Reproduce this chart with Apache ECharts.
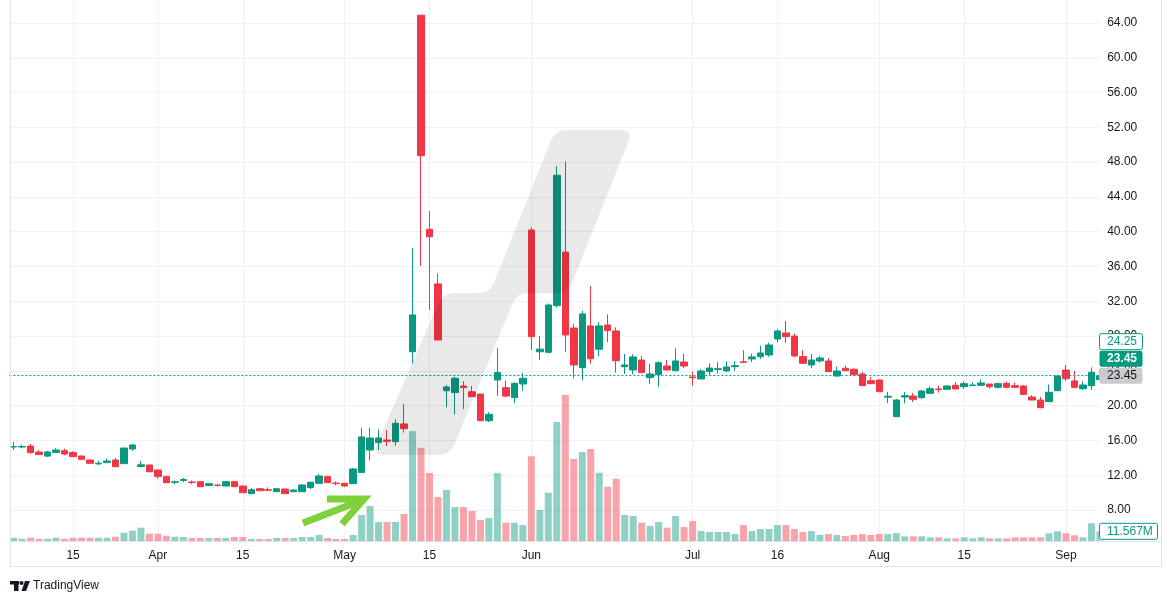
<!DOCTYPE html>
<html><head><meta charset="utf-8">
<script src="https://cdn.jsdelivr.net/npm/echarts/dist/echarts.min.js"></script>
<style>html,body{margin:0;padding:0;background:#fff}#c{width:1171px;height:604px}</style>
</head><body><div id="c"></div>
<script>
// ---------------- data ----------------
const dates = [
 '2024-03-06','2024-03-07','2024-03-08','2024-03-11','2024-03-12','2024-03-13','2024-03-14','2024-03-15','2024-03-18','2024-03-19',
 '2024-03-20','2024-03-21','2024-03-22','2024-03-25','2024-03-26','2024-03-27','2024-03-28','2024-04-01','2024-04-02','2024-04-03',
 '2024-04-04','2024-04-05','2024-04-08','2024-04-09','2024-04-10','2024-04-11','2024-04-12','2024-04-15','2024-04-16','2024-04-17',
 '2024-04-18','2024-04-19','2024-04-22','2024-04-23','2024-04-24','2024-04-25','2024-04-26','2024-04-29','2024-04-30','2024-05-01',
 '2024-05-02','2024-05-03','2024-05-06','2024-05-07','2024-05-08','2024-05-09','2024-05-10','2024-05-13','2024-05-14','2024-05-15',
 '2024-05-16','2024-05-17','2024-05-20','2024-05-21','2024-05-22','2024-05-23','2024-05-24','2024-05-28','2024-05-29','2024-05-30',
 '2024-05-31','2024-06-03','2024-06-04','2024-06-05','2024-06-06','2024-06-07','2024-06-10','2024-06-11','2024-06-12','2024-06-13',
 '2024-06-14','2024-06-17','2024-06-18','2024-06-20','2024-06-21','2024-06-24','2024-06-25','2024-06-26','2024-06-27','2024-06-28',
 '2024-07-01','2024-07-02','2024-07-03','2024-07-05','2024-07-08','2024-07-09','2024-07-10','2024-07-11','2024-07-12','2024-07-15',
 '2024-07-16','2024-07-17','2024-07-18','2024-07-19','2024-07-22','2024-07-23','2024-07-24','2024-07-25','2024-07-26','2024-07-29',
 '2024-07-30','2024-07-31','2024-08-01','2024-08-02','2024-08-05','2024-08-06','2024-08-07','2024-08-08','2024-08-09','2024-08-12',
 '2024-08-13','2024-08-14','2024-08-15','2024-08-16','2024-08-19','2024-08-20','2024-08-21','2024-08-22','2024-08-23','2024-08-26',
 '2024-08-27','2024-08-28','2024-08-29','2024-08-30','2024-09-03','2024-09-04','2024-09-05','2024-09-06','2024-09-09'
];
const open = [
 15.25,15.25,15.36,14.67,14.2,14.6,14.82,14.6,14.2,13.75,
 13.3,13.45,13.75,13.33,15.02,13.0,13.18,12.6,11.84,11.18,
 11.4,11.22,11.26,10.8,10.87,10.76,11.26,10.76,9.88,10.45,
 10.33,10.1,10.41,10.1,10.1,10.57,11.07,11.84,11.1,11.07,
 11.03,12.3,14.9,15.75,16.05,15.86,17.9,26.2,64.9,40.28,
 34.0,21.72,21.5,22.26,21.6,21.34,18.27,22.95,22.07,20.92,
 22.49,40.2,26.2,26.14,31.5,37.66,28.93,24.37,29.17,26.49,
 29.28,28.59,24.48,24.1,25.25,23.22,23.56,24.56,24.02,25.02,
 23.3,23.07,23.91,24.15,23.99,24.5,25.05,25.37,25.63,25.83,
 27.67,28.36,28.0,25.64,24.68,25.14,25.14,23.41,24.3,24.18,
 23.64,22.87,22.95,20.98,18.73,21.0,21.11,20.92,21.42,21.92,
 21.88,22.34,22.18,22.3,22.34,22.49,22.11,22.57,22.3,22.26,
 21.0,20.65,20.46,21.72,24.1,22.84,21.95,22.3,23.0
];
const high = [
 15.8,15.5,15.6,14.9,14.8,15.1,15.05,14.75,14.3,13.85,
 13.65,13.95,14.0,15.13,15.6,13.65,13.2,12.65,11.95,11.4,
 11.7,11.4,11.3,11.03,11.0,11.35,11.3,10.8,10.54,10.54,
 10.6,10.54,10.45,10.4,10.95,11.26,12.14,11.95,11.3,11.1,
 12.83,17.43,17.43,17.28,17.2,18.43,20.2,38.1,64.9,42.4,
 35.2,22.38,23.33,22.8,22.25,21.34,19.25,26.6,22.9,22.68,
 23.76,40.5,28.0,31.75,47.55,48.06,29.4,30.9,33.76,29.6,
 30.5,29.0,25.94,25.9,25.7,24.8,25.1,25.25,26.6,26.0,
 23.9,24.2,24.87,25.0,25.1,25.1,26.37,26.0,26.9,27.2,
 28.8,29.74,28.3,26.37,25.94,25.7,25.48,24.5,24.6,24.3,
 23.87,23.3,23.0,21.6,20.76,21.57,21.46,21.8,22.2,22.3,
 22.35,22.7,22.8,22.69,23.03,22.49,22.65,22.76,22.65,22.38,
 21.2,21.0,22.45,23.5,24.68,24.0,22.8,24.4,24.25
];
const low = [
 14.9,15.1,14.5,14.35,14.1,14.6,14.3,14.1,13.8,13.35,
 13.2,13.45,12.95,13.33,14.8,12.9,12.4,11.6,11.14,10.95,
 11.2,10.98,10.68,10.8,10.7,10.76,10.68,9.99,9.88,10.19,
 10.19,10.1,9.88,10.1,10.1,10.42,11.07,11.14,10.84,10.65,
 11.03,12.3,13.7,14.9,15.36,15.4,16.9,24.87,36.06,31.0,
 27.55,19.8,19.0,19.6,21.0,18.27,18.1,21.1,21.0,20.3,
 21.7,26.4,25.25,26.0,31.27,26.2,23.15,22.9,24.83,25.7,
 27.3,23.8,23.64,23.6,23.8,22.5,22.2,24.1,24.02,24.3,
 22.3,23.07,23.5,23.7,23.9,24.0,24.95,25.02,25.37,25.6,
 27.3,27.24,25.6,24.8,24.3,24.95,23.91,23.33,24.0,23.5,
 22.3,22.5,21.6,20.3,18.73,20.27,20.42,20.8,21.35,21.5,
 21.8,21.9,21.95,22.3,22.34,21.95,22.0,22.0,22.0,21.2,
 20.65,19.7,20.46,21.72,22.84,22.0,21.8,21.8,22.9
];
const close = [
 15.3,15.3,14.6,14.37,14.67,14.9,14.44,14.13,13.83,13.37,
 13.38,13.64,12.98,15.13,15.48,13.2,12.4,11.84,11.14,11.24,
 11.5,11.17,10.68,11.03,10.82,11.26,10.68,9.99,10.34,10.22,
 10.28,10.45,9.88,10.3,10.88,11.19,11.91,11.14,11.05,10.76,
 12.72,16.4,16.28,16.28,15.9,17.97,17.35,30.43,48.75,39.43,
 27.55,22.15,23.15,22.07,21.03,18.27,19.0,23.8,21.1,22.57,
 23.15,27.93,26.5,31.58,46.5,28.13,24.68,30.55,25.4,29.17,
 28.63,25.17,24.68,25.6,23.8,23.64,24.94,24.1,25.14,24.56,
 23.22,23.99,24.33,24.25,24.45,24.6,24.98,25.6,26.06,26.98,
 28.59,27.93,25.71,24.87,25.25,25.48,23.91,23.99,24.02,23.56,
 22.3,22.53,21.61,21.08,20.65,21.15,20.73,21.69,21.95,21.85,
 22.26,21.92,22.53,22.38,22.61,22.18,22.53,22.11,22.11,21.3,
 20.65,19.77,21.54,23.41,23.1,22.11,22.38,23.84,23.45
];
// volume in millions
const volume = [
 3.9,2.7,3.9,2.7,2.7,3.9,2.7,3.9,3.9,3.9,
 3.9,3.9,5.1,9.9,12.3,15.9,8.7,8.7,6.3,5.1,
 4.8,3.6,3.6,3.6,3.6,3.6,4.8,4.8,2.4,2.4,
 2.4,3.6,3.6,3.6,4.8,4.8,7.2,3.6,2.4,2.4,
 7.2,31,41.7,22.6,22.6,22.6,32.2,131,111,81,
 52.5,60.8,40.5,40.5,35.8,25,27.4,81,21.8,21.8,
 19.1,101,37,57.6,142,174,97.8,106,109.7,81.4,
 64.7,74.3,31,29.8,21.8,17.9,22.6,15.9,29.8,16.7,
 23.8,11.9,10.7,10.7,10.7,8.3,19.1,11.9,14.3,14.3,
 19.1,19.1,14.3,10.7,11.9,7.2,8.3,7.2,6,7.2,
 8.3,7.2,8.3,8.3,9.5,5.6,5.6,5.6,4.4,4.4,
 3.2,3.2,4.4,3.2,4.4,3.2,3.2,3.2,4.4,4.4,
 4.4,4.4,9.2,11.6,9.2,6.8,4.4,21.1,11.567
];
const tickDates = ['2024-03-15','2024-04-01','2024-04-15','2024-05-01','2024-05-15','2024-06-03','2024-07-01','2024-07-16','2024-08-01','2024-08-15','2024-09-03'];
const tickTexts = ['15','Apr','15','May','15','Jun','Jul','16','Aug','15','Sep'];
const priceMin = 4, priceMax = 66.65, priceStep = 4, priceTopLabel = 64;
const lastPrice = 23.45;
const markerPrice = 24.25;
const lastVolumeText = '11.567M';

// ---------------- chart ----------------
const UP = '#089981', DOWN = '#f23645';
const UPV = 'rgba(8,153,129,0.45)', DOWNV = 'rgba(242,54,69,0.45)';
const FONT = '"Liberation Sans", Arial, sans-serif';
const TXT = '#131722';
const GRIDC = '#f0f1f4';

const tickIdx = new Set(tickDates.map(d => dates.indexOf(d)));
const labelOf = {}; tickDates.forEach((d, k) => labelOf[d] = tickTexts[k]);
const candleData = dates.map((d, i) => [open[i], close[i], low[i], high[i]]);
const volData = volume.map((v, i) => ({ value: v, itemStyle: { color: close[i] >= open[i] ? UPV : DOWNV } }));

const GL = 9.4, GW = 1094.8;
const chart = echarts.init(document.getElementById('c'));
chart.setOption({
  animation: false,
  backgroundColor: '#ffffff',
  textStyle: { fontFamily: FONT },
  grid: [
    { left: GL, width: GW, top: 0, height: 544.8 },
    { left: GL, width: GW, top: 0, height: 541 }
  ],
  xAxis: [
    { type: 'category', gridIndex: 0, data: dates, show: false, boundaryGap: true },
    { type: 'category', gridIndex: 1, data: dates, boundaryGap: true,
      axisLine: { show: true, lineStyle: { color: '#e0e3eb', width: 1 } },
      axisTick: { show: false },
      axisLabel: { interval: (i) => tickIdx.has(i), formatter: (v) => labelOf[v] || '',
                   color: TXT, fontSize: 12, margin: 9, fontFamily: FONT },
      splitLine: { show: true, alignWithLabel: true, interval: (i) => tickIdx.has(i),
                   lineStyle: { color: GRIDC, width: 1 } } }
  ],
  yAxis: [
    { type: 'value', gridIndex: 0, position: 'right', min: priceMin, max: priceMax, interval: priceStep,
      axisLine: { show: false }, axisTick: { show: false },
      axisLabel: { margin: 3, color: TXT, fontSize: 12, fontFamily: FONT, showMaxLabel: false, showMinLabel: false,
                   formatter: (v) => (v <= priceMin || v > priceTopLabel) ? '' : v.toFixed(2) },
      splitLine: { show: true, showMinLine: false, showMaxLine: false, lineStyle: { color: GRIDC, width: 1 } } },
    { type: 'value', gridIndex: 1, min: 0, max: 645, show: false, splitLine: { show: false } }
  ],
  series: [
    { type: 'bar', name: 'Volume', xAxisIndex: 1, yAxisIndex: 1, data: volData, barWidth: 7, z: 1, silent: true },
    { type: 'candlestick', name: 'Price', xAxisIndex: 0, yAxisIndex: 0, data: candleData, barWidth: 7, z: 2,
      itemStyle: { color: UP, color0: DOWN, borderColor: UP, borderColor0: DOWN, borderWidth: 1 },
      markLine: { silent: true, symbol: 'none', label: { show: false },
                  lineStyle: { color: UP, type: [2, 2], width: 1 },
                  data: [{ yAxis: lastPrice }] } }
  ]
});

// ---------------- overlays ----------------
function unit(a, p) { const dx = a[0] - p[0], dy = a[1] - p[1], l = Math.hypot(dx, dy); return [dx / l, dy / l]; }
function roundedPoly(pts, r, steps) {
  const out = []; const n = pts.length;
  for (let i = 0; i < n; i++) {
    const p = pts[i], a = pts[(i - 1 + n) % n], b = pts[(i + 1) % n];
    const ua = unit(a, p), ub = unit(b, p);
    const p1 = [p[0] + ua[0] * r, p[1] + ua[1] * r], p2 = [p[0] + ub[0] * r, p[1] + ub[1] * r];
    for (let s = 0; s <= steps; s++) {
      const t = s / steps, u = 1 - t;
      out.push([u * u * p1[0] + 2 * u * t * p[0] + t * t * p2[0], u * u * p1[1] + 2 * u * t * p[1] + t * t * p2[1]]);
    }
  }
  return out;
}
const wm = [[555,130],[633,130],[568,293],[517,293],[450,455],[372,455],[443,293],[490,293]];

const yLast = chart.convertToPixel({ yAxisIndex: 0 }, lastPrice);
const yVol = chart.convertToPixel({ yAxisIndex: 1 }, volume[volume.length - 1]);
const BX = 1099.5, BW = 43, BH = 16, PITCH = 17;
const grayTop = yLast - BH / 2, greenTop = grayTop - PITCH, outTop = greenTop - PITCH;

function box(top, w, fill, stroke, text, color, bold) {
  return [
    { type: 'rect', z: 60, shape: { x: BX, y: top, width: w, height: BH, r: 2 },
      style: { fill: fill, stroke: stroke || null, lineWidth: stroke ? 1 : 0 } },
    { type: 'text', z: 61, x: 1107, y: top + BH / 2 + 0.5,
      style: { text: text, fill: color, font: (bold ? 'bold ' : '') + '12px ' + FONT,
               textVerticalAlign: 'middle', verticalAlign: 'middle', textAlign: 'left', align: 'left' } }
  ];
}

const elements = [
  { type: 'rect', z: 40, shape: { x: 1099.5, y: 0, width: 5.5, height: 540.5 }, style: { fill: '#ffffff' } },
  { type: 'line', z: 41, shape: { x1: 1104, y1: 541.5, x2: 1161, y2: 541.5 }, style: { stroke: '#e0e3eb', lineWidth: 1 } },
  { type: 'line', z: 41, shape: { x1: 10.5, y1: 0, x2: 10.5, y2: 566.5 }, style: { stroke: '#e0e3eb', lineWidth: 1 } },
  { type: 'line', z: 41, shape: { x1: 1161.5, y1: 0, x2: 1161.5, y2: 566.5 }, style: { stroke: '#e0e3eb', lineWidth: 1 } },
  { type: 'line', z: 41, shape: { x1: 10, y1: 566.5, x2: 1162, y2: 566.5 }, style: { stroke: '#e0e3eb', lineWidth: 1 } },
  { type: 'polygon', z: 50, shape: { points: roundedPoly(wm, 12, 8) }, style: { fill: 'rgba(0,0,0,0.088)' } },
  { type: 'polyline', z: 55, shape: { points: [[303, 523], [360, 501]] },
    style: { stroke: '#7fd13b', lineWidth: 7, fill: null, lineCap: 'butt' } },
  { type: 'polyline', z: 55, shape: { points: [[327, 499], [364, 499], [342, 524]] },
    style: { stroke: '#7fd13b', lineWidth: 7, fill: null, lineJoin: 'miter', lineCap: 'butt' } },
  { type: 'rect', z: 55, shape: { x: 10, y: 581, width: 9, height: 3.5 }, style: { fill: TXT } },
  { type: 'rect', z: 55, shape: { x: 14, y: 581, width: 4.5, height: 10 }, style: { fill: TXT } },
  { type: 'circle', z: 55, shape: { cx: 21.5, cy: 583, r: 2 }, style: { fill: TXT } },
  { type: 'polygon', z: 55, shape: { points: [[25, 581], [30, 581], [26, 591], [21.5, 591]] }, style: { fill: TXT } },
  { type: 'text', z: 55, x: 33, y: 586,
    style: { text: 'TradingView', fill: TXT, font: '12px ' + FONT, textVerticalAlign: 'middle', verticalAlign: 'middle' } }
];
elements.push(...box(outTop, BW, '#ffffff', UP, markerPrice.toFixed(2), UP, false));
elements.push(...box(greenTop, BW, UP, null, lastPrice.toFixed(2), '#ffffff', true));
elements.push(...box(grayTop, BW, '#cbcbcb', null, lastPrice.toFixed(2), TXT, false));
elements.push(...box(yVol - BH / 2, 58, '#ffffff', UP, lastVolumeText, UP, false));

chart.setOption({ graphic: { elements: elements } });
</script>
</body></html>
